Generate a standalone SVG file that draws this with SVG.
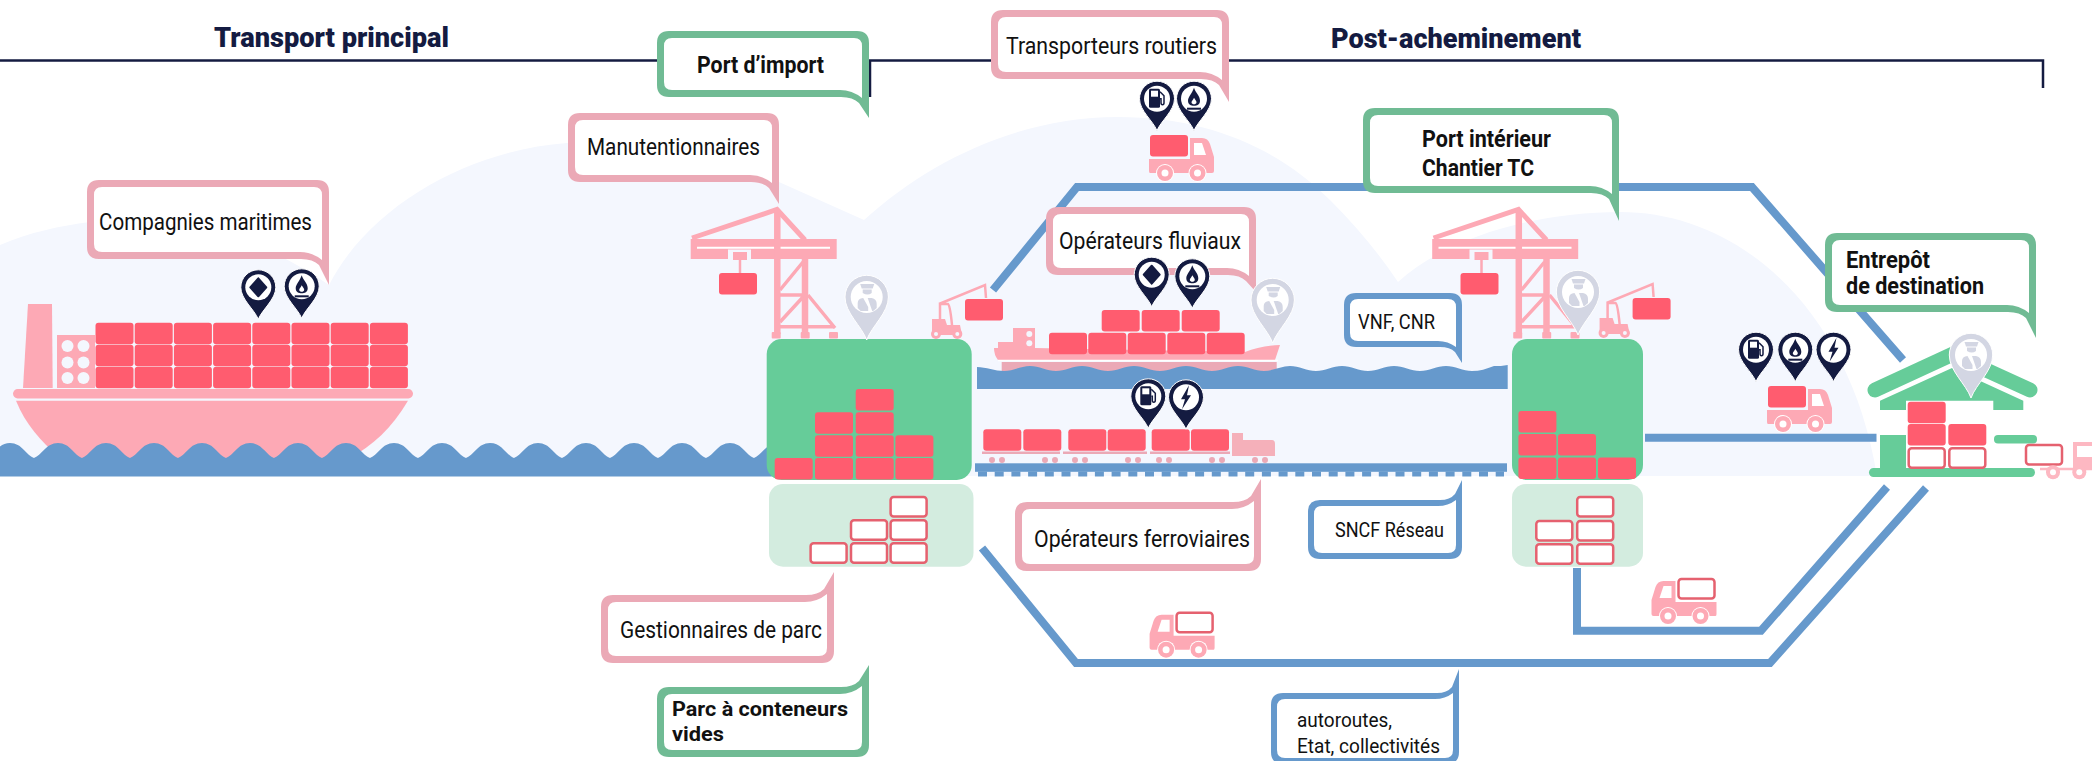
<svg xmlns="http://www.w3.org/2000/svg" xmlns:xlink="http://www.w3.org/1999/xlink" width="2092" height="761" viewBox="0 0 2092 761">
<style>
text{font-family:"Roboto","Liberation Sans",sans-serif;fill:#111;font-size:23px}
.b{font-weight:700}
.t{font-size:21px}
.s{font-size:21px}
.h{font-weight:900;font-size:28px;fill:#141b41}
.op{fill:#eba9b6}.og{fill:#70bb94}.ob{fill:#6699cc}.in{fill:#fff}
.road{fill:none;stroke:#6699cc;stroke-width:8;stroke-linejoin:miter}
.pk{fill:#fda9b5}.pl{stroke:#fda9b5;fill:none}
.gr{fill:#66cc99}.lg{fill:#d3ecdf}
</style>
<defs>
<rect id="c" width="38" height="21.5" rx="3" fill="#ff5c6f"/>
<rect id="e" x="1" y="1" width="36" height="19.5" rx="3" fill="#fff" stroke="#e5616f" stroke-width="2.5"/>
<g id="truck">
<path class="pk" d="M-1,24H40V3H52Q58,3 60,9L64,22V36Q64,38 62,38H0Q-1,38 -1,36Z"/>
<path fill="#fff" d="M44,8H52L56,20H44Z"/>
<circle cx="15" cy="38" r="9" fill="#fff"/><circle cx="47.5" cy="38" r="9" fill="#fff"/>
<circle cx="15" cy="38" r="8" class="pk"/><circle cx="47.5" cy="38" r="8" class="pk"/>
<circle cx="15" cy="38" r="3.5" fill="#fff"/><circle cx="47.5" cy="38" r="3.5" fill="#fff"/>
</g>
<g id="pin">
<path fill="#141b41" stroke="#fff" stroke-width="1" d="M0,0C-4,-10 -17.5,-20 -17.5,-32A17.5,17.5 0 1 1 17.5,-32C17.5,-20 4,-10 0,0Z"/>
<circle cx="0" cy="-32" r="13" fill="#fff"/>
</g>
<g id="i-diamond"><use href="#pin"/><path fill="#141b41" d="M0,-41L8,-32L0,-23L-8,-32Z" stroke="#141b41" stroke-linejoin="round" stroke-width="2"/></g>
<g id="i-flame"><use href="#pin"/><path fill="#141b41" d="M0,-43C1.5,-38 6,-35 6,-30C6,-26 3,-25 0,-25C-3,-25 -6,-26 -6,-30C-6,-34 -2,-37 0,-43Z"/><path fill="#fff" d="M0,-33C1,-31 2.5,-30 2.5,-28.500C2.500,-27 1,-26.500 0,-26.500C-1,-26.500 -2.500,-27 -2.500,-28.500C-2.500,-30 -.5,-31 0,-33Z"/><rect x="-7" y="-23" width="14" height="2" fill="#141b41"/></g>
<g id="i-pump"><use href="#pin"/><rect x="-8" y="-42" width="11" height="19" rx="1.500" fill="#141b41"/><rect x="-6" y="-40" width="7" height="6" fill="#fff"/><path fill="none" stroke="#141b41" stroke-width="1.500" d="M3,-39L7,-35V-28Q7,-26 5.500,-26Q4,-26 4,-28V-32H3"/></g>
<g id="i-bolt"><use href="#pin"/><path fill="#141b41" d="M3,-44L-5,-30H-1L-4,-20L5,-34H1Z"/></g>
<g id="grey">
<path fill="#d3d6e3" stroke="#fff" stroke-width="1" d="M0,0C-5,-14 -21.700,-27 -21.700,-43A21.700,21.700 0 1 1 21.700,-43C21.700,-27 5,-14 0,0Z"/>
<circle cx="0" cy="-43" r="16" fill="#fff"/>
<path fill="#d3d6e3" d="M-6.500,-56H7.500L6,-51.500H-5Z"/>
<path fill="#d3d6e3" d="M-4,-50.500H5V-47Q1,-44 -4,-47Z"/>
<path fill="#d3d6e3" d="M-9,-32V-37Q-9,-41.500 -3.500,-42L1.500,-33V-29H-6Z"/>
<path fill="#d3d6e3" d="M1,-42H5Q10,-41 10,-36V-32L6.500,-29H5.500Z"/>
</g>
<g id="crane">
<g class="pl" stroke-width="5"><path d="M692,238L777,209.500L805,240"/></g>
<path class="pk" d="M690.700,239H836.700V259H751V249.500H728V259H690.700Z"/>
<path stroke="#fff" stroke-width="2" d="M697,247.700H830"/>
<rect x="733" y="252" width="14" height="8" class="pk"/>
<path class="pl" stroke-width="2.500" d="M740,260V273"/>
<use href="#c" x="719" y="273"/>
<g class="pl" stroke-width="6.500"><path d="M777.300,210V334M805,259V334"/></g>
<g class="pl" stroke-width="3.500"><path d="M777,295H805M777,326.700H835M780,290L803,262M780,322L803,297M808,295L835,328"/></g>
<rect x="771.700" y="332" width="9" height="6.500" rx="1" class="pk"/><rect x="800.700" y="332" width="9" height="6.500" rx="1" class="pk"/><rect x="829" y="332" width="9" height="6.500" rx="1" class="pk"/>
</g>
<g id="fork">
<path class="pl" stroke-width="2.500" d="M939,304L985,285L986,298M940,325V304H948Q950,304 952,325"/>
<path class="pk" d="M932,319H945L947,325H960L962,335H932Z"/>
<circle cx="936" cy="334" r="5" class="pk"/><circle cx="957.300" cy="334" r="5" class="pk"/><circle cx="936" cy="334" r="2" fill="#f4f7fe"/><circle cx="957.300" cy="334" r="2" fill="#f4f7fe"/>
<use href="#c" x="965" y="299"/>
</g>
</defs>
<rect width="2092" height="761" fill="#fff"/>
<path id="hills" fill="#f4f7fe" d="M0,245C30,232 60,226 90,222C160,212 250,230 329,285C370,205 470,150 567,143C640,136 700,150 779,182L864,220C930,160 1020,117 1118,117C1210,117 1280,150 1330,200Q1370,240 1398,282C1450,235 1540,212 1620,212C1740,212 1850,310 1877,476H0Z"/>
<path id="header" fill="none" stroke="#141b41" stroke-width="2.500" d="M0,60.500H2043V88M870,60.500V97"/>
<text class="h" x="214" y="47" textLength="235" lengthAdjust="spacingAndGlyphs">Transport principal</text>
<text class="h" x="1331" y="48" textLength="250" lengthAdjust="spacingAndGlyphs">Post-acheminement</text>
<g id="connectors">
<path class="road" d="M993,290L1077,187H1752L1903,360"/>
<path class="road" d="M982,548L1076,663H1770L1926,488"/>
<path class="road" d="M1577,568V630.700H1761L1887,487"/>
<path class="road" d="M1645,437.700H1876.500"/>
</g>
<g id="mer">
<g id="navire">
<path class="pk" d="M28,304H52L52.700,388H23Z"/>
<rect x="57" y="335" width="38" height="53" class="pk"/>
<g fill="#f4f7fe"><circle cx="67.500" cy="346" r="6"/><circle cx="83.500" cy="346" r="6"/><circle cx="67.500" cy="362.500" r="6"/><circle cx="83.500" cy="362.500" r="6"/><circle cx="67.500" cy="378" r="6"/><circle cx="83.500" cy="378" r="6"/></g>
<g><use href="#c" x="95.500" y="322.700"/><use href="#c" x="134.700" y="322.700"/><use href="#c" x="173.900" y="322.700"/><use href="#c" x="213.100" y="322.700"/><use href="#c" x="252.300" y="322.700"/><use href="#c" x="291.500" y="322.700"/><use href="#c" x="330.700" y="322.700"/><use href="#c" x="369.900" y="322.700"/>
<use href="#c" x="95.500" y="344.700"/><use href="#c" x="134.700" y="344.700"/><use href="#c" x="173.900" y="344.700"/><use href="#c" x="213.100" y="344.700"/><use href="#c" x="252.300" y="344.700"/><use href="#c" x="291.500" y="344.700"/><use href="#c" x="330.700" y="344.700"/><use href="#c" x="369.900" y="344.700"/>
<use href="#c" x="95.500" y="366.700"/><use href="#c" x="134.700" y="366.700"/><use href="#c" x="173.900" y="366.700"/><use href="#c" x="213.100" y="366.700"/><use href="#c" x="252.300" y="366.700"/><use href="#c" x="291.500" y="366.700"/><use href="#c" x="330.700" y="366.700"/><use href="#c" x="369.900" y="366.700"/></g>
<rect x="13" y="389" width="400" height="9.500" rx="4.700" class="pk"/>
<path class="pk" d="M16,400.700H408C392,428 372,446 350,458H60C40,440 26,425 16,400.700Z"/>
</g>
<path class="ob" d="M-14,458c8,-3 12,-15 24,-15c12,0 16,12 24,15c8,-3 12,-15 24,-15c12,0 16,12 24,15c8,-3 12,-15 24,-15c12,0 16,12 24,15c8,-3 12,-15 24,-15c12,0 16,12 24,15c8,-3 12,-15 24,-15c12,0 16,12 24,15c8,-3 12,-15 24,-15c12,0 16,12 24,15c8,-3 12,-15 24,-15c12,0 16,12 24,15c8,-3 12,-15 24,-15c12,0 16,12 24,15c8,-3 12,-15 24,-15c12,0 16,12 24,15c8,-3 12,-15 24,-15c12,0 16,12 24,15c8,-3 12,-15 24,-15c12,0 16,12 24,15c8,-3 12,-15 24,-15c12,0 16,12 24,15c8,-3 12,-15 24,-15c12,0 16,12 24,15c8,-3 12,-15 24,-15c12,0 16,12 24,15c8,-3 12,-15 24,-15c12,0 16,12 24,15c8,-3 12,-15 24,-15c12,0 16,12 24,15c8,-3 12,-15 24,-15c12,0 16,12 24,15h8V476.500H-14Z"/>
</g>
<g id="port-import">
<use href="#crane"/>
<use href="#fork"/>
<rect x="766.700" y="339" width="205" height="141" rx="15" class="gr"/>
<rect x="769" y="484" width="204.500" height="82.700" rx="14" class="lg"/>
<g><use href="#c" x="774.700" y="458"/><use href="#c" x="815" y="458"/><use href="#c" x="855.700" y="458"/><use href="#c" x="895.400" y="458"/><use href="#c" x="815" y="435.300"/><use href="#c" x="855.700" y="435.300"/><use href="#c" x="895.400" y="435.300"/><use href="#c" x="815" y="412.300"/><use href="#c" x="855.700" y="412.300"/><use href="#c" x="855.700" y="389"/></g>
<g><use href="#e" x="809.600" y="542.300"/><use href="#e" x="850" y="542.300"/><use href="#e" x="889.600" y="542.300"/><use href="#e" x="850" y="519.300"/><use href="#e" x="889.600" y="519.300"/><use href="#e" x="889.600" y="496"/></g>
</g>
<g id="fluvial">
<path class="pk" d="M994,348H998V342H1013V328H1035V348L1245,352Q1260,346 1280,345L1275,360H998Q994,355 994,348Z"/>
<circle cx="1029.300" cy="334" r="3" fill="#f4f7fe"/><circle cx="1029.300" cy="343.300" r="3" fill="#f4f7fe"/>
<path stroke="#fff" stroke-width="1.500" d="M998,360.500H1278"/>
<rect x="1001.700" y="362" width="275" height="10" fill="#eba9b6"/>
<g><use href="#c" x="1101.700" y="310"/><use href="#c" x="1141.700" y="310"/><use href="#c" x="1181.700" y="310"/><use href="#c" x="1049" y="332.700"/><use href="#c" x="1088.300" y="332.700"/><use href="#c" x="1127.700" y="332.700"/><use href="#c" x="1167.300" y="332.700"/><use href="#c" x="1206.700" y="332.700"/></g>
<path class="ob" d="M977,367c9,0 18,4 27,4c9,0 17,-5 26,-5c9,0 17,5 26,5c9,0 17,-5 26,-5c9,0 17,5 26,5c9,0 17,-5 26,-5c9,0 17,5 26,5c9,0 17,-5 26,-5c9,0 17,5 26,5c9,0 17,-5 26,-5c9,0 17,5 26,5c9,0 17,-5 26,-5c9,0 17,5 26,5c9,0 17,-5 26,-5c9,0 17,5 26,5c9,0 17,-5 26,-5c9,0 17,5 26,5c9,0 17,-5 26,-5c9,0 17,5 26,5c8,0 14,-2 22,-5c5,0 9,0 13.700,-1V389H977Z"/>
</g>
<g id="ferroviaire">
<rect x="975" y="463.300" width="532" height="8.500" class="ob"/>
<path fill="none" stroke="#6699cc" stroke-width="5" stroke-dasharray="9 7.700" d="M978,474H1504"/>
<g><use href="#c" x="983.300" y="429.300"/><use href="#c" x="1023.300" y="429.300"/><use href="#c" x="1068.300" y="429.300"/><use href="#c" x="1107.700" y="429.300"/><use href="#c" x="1151.700" y="429.300"/><use href="#c" x="1191" y="429.300"/></g>
<path stroke="#eba9b6" stroke-width="2.500" d="M982,452.700H1060M1063,452.700H1147M1150,452.700H1230"/>
<g fill="#eba9b6"><circle cx="992" cy="460" r="3"/><circle cx="1002" cy="460" r="3"/><circle cx="1045" cy="460" r="3"/><circle cx="1055" cy="460" r="3"/><circle cx="1075" cy="460" r="3"/><circle cx="1085" cy="460" r="3"/><circle cx="1128" cy="460" r="3"/><circle cx="1138" cy="460" r="3"/><circle cx="1159" cy="460" r="3"/><circle cx="1169" cy="460" r="3"/><circle cx="1212" cy="460" r="3"/><circle cx="1222" cy="460" r="3"/><circle cx="1255" cy="460" r="3"/><circle cx="1265" cy="460" r="3"/></g>
<path fill="#f5b0ba" d="M1232,433H1243V440H1272Q1275,440 1275,444V456H1232Z"/>
</g>
<g id="port-interieur">
<use href="#crane" transform="translate(741.500,0)"/>
<use href="#fork" transform="translate(667.600,-1)"/>
<rect x="1512" y="339" width="131" height="141" rx="15" class="gr"/>
<rect x="1512" y="484" width="131" height="82.700" rx="14" class="lg"/>
<g><use href="#c" x="1518.400" y="457.500"/><use href="#c" x="1558" y="457.500"/><use href="#c" x="1598" y="457.500"/><use href="#c" x="1518.400" y="434"/><use href="#c" x="1558" y="434"/><use href="#c" x="1518.400" y="411"/></g>
<g><use href="#e" x="1535.300" y="543.300"/><use href="#e" x="1576.200" y="543.300"/><use href="#e" x="1535.300" y="520"/><use href="#e" x="1576.200" y="520"/><use href="#e" x="1576.200" y="496"/></g>
</g>
<g id="entrepot">
<path fill="none" stroke="#66cc99" stroke-width="15" stroke-linecap="round" d="M1875,390L1952,354.500L2030,390"/>
<path class="gr" d="M1880,410V400.700L1952,368L2023.300,400.700V410H1993.300V400.700H1906V410Z"/>
<rect x="1880" y="435" width="26" height="33.500" class="gr"/>
<rect x="1994" y="435" width="43" height="8.500" rx="4" class="gr"/>
<rect x="1869" y="468" width="166" height="9" rx="4.500" class="gr"/>
<use href="#c" x="1907.700" y="401.700"/><use href="#c" x="1907.700" y="424"/><use href="#c" x="1948.300" y="424"/>
<use href="#e" x="1907.700" y="447.300"/><use href="#e" x="1948.300" y="447.300"/>
</g>
<g id="camions">
<g><use href="#truck" transform="translate(1150,135)"/><use href="#c" x="1150" y="135"/></g>
<g><use href="#truck" transform="translate(1768,386)"/><use href="#c" x="1768" y="386"/></g>
<g><use href="#truck" transform="translate(1213.600,611.700) scale(-1,1)"/><use href="#e" x="1175.600" y="611.700"/></g>
<g><use href="#truck" transform="translate(1715.500,578) scale(-1,1)"/><use href="#e" x="1677.500" y="578"/></g>
<g id="camion-sortie">
<use href="#e" x="2025" y="444"/>
<path stroke="#fdb8c2" stroke-width="2.500" d="M2040,469H2092"/>
<path fill="#fdb8c2" d="M2073,442H2092V470H2073Z"/><rect x="2077" y="446" width="15" height="11" fill="#fff"/>
<circle cx="2053" cy="472.300" r="7" fill="#fdb8c2"/><circle cx="2079.300" cy="472.300" r="7" fill="#fdb8c2"/><circle cx="2053" cy="472.300" r="3" fill="#fff"/><circle cx="2079.300" cy="472.300" r="3" fill="#fff"/>
</g>
</g>
<g id="n-compagnies"><path class="op" d="M99,180H317Q329,180 329,192V285L319,265Q313,259 301,259H99Q87,259 87,247V192Q87,180 99,180Z"/><path class="in" d="M102,187H314Q322,187 322,195V260Q312,252 300,252H102Q94,252 94,244V195Q94,187 102,187Z"/><text x="99" y="230" textLength="213" lengthAdjust="spacingAndGlyphs">Compagnies maritimes</text></g>
<g id="n-manutention"><path class="op" d="M580,113H767Q779,113 779,125V204L769,188Q763,182 751,182H580Q568,182 568,170V125Q568,113 580,113Z"/><path class="in" d="M583,120H764Q772,120 772,128V183Q762,175 750,175H583Q575,175 575,167V128Q575,120 583,120Z"/><text x="587" y="155" textLength="173" lengthAdjust="spacingAndGlyphs">Manutentionnaires</text></g>
<g id="n-port-import"><path class="og" d="M669,31H857Q869,31 869,43V118L859,103Q853,97 841,97H669Q657,97 657,85V43Q657,31 669,31Z"/><path class="in" d="M672,38H854Q862,38 862,46V98Q852,90 840,90H672Q664,90 664,82V46Q664,38 672,38Z"/><text class="b" x="697" y="73" textLength="127" lengthAdjust="spacingAndGlyphs">Port d’import</text></g>
<g id="n-routiers"><path class="op" d="M1003,10H1217Q1229,10 1229,22V102L1219,85Q1213,79 1201,79H1003Q991,79 991,67V22Q991,10 1003,10Z"/><path class="in" d="M1006,17H1214Q1222,17 1222,25V80Q1212,72 1200,72H1006Q998,72 998,64V25Q998,17 1006,17Z"/><text x="1006" y="54" textLength="211" lengthAdjust="spacingAndGlyphs">Transporteurs routiers</text></g>
<g id="n-fluviaux"><path class="op" d="M1058,207H1244Q1256,207 1256,219V292L1246,281Q1240,275 1228,275H1058Q1046,275 1046,263V219Q1046,207 1058,207Z"/><path class="in" d="M1061,214H1241Q1249,214 1249,222V276Q1239,268 1227,268H1061Q1053,268 1053,260V222Q1053,214 1061,214Z"/><text x="1059" y="249" textLength="182" lengthAdjust="spacingAndGlyphs">Opérateurs fluviaux</text></g>
<g id="n-port-interieur"><path class="og" d="M1375,108H1607Q1619,108 1619,120V221L1609,199Q1603,193 1591,193H1375Q1363,193 1363,181V120Q1363,108 1375,108Z"/><path class="in" d="M1378,115H1604Q1612,115 1612,123V194Q1602,186 1590,186H1378Q1370,186 1370,178V123Q1370,115 1378,115Z"/><text class="b" x="1422" y="147" textLength="129" lengthAdjust="spacingAndGlyphs">Port intérieur</text><text class="b" x="1422" y="176" textLength="112" lengthAdjust="spacingAndGlyphs">Chantier TC</text></g>
<g id="n-entrepot"><path class="og" d="M1837,233H2024Q2036,233 2036,245V338L2026,318Q2020,312 2008,312H1837Q1825,312 1825,300V245Q1825,233 1837,233Z"/><path class="in" d="M1840,240H2021Q2029,240 2029,248V313Q2019,305 2007,305H1840Q1832,305 1832,297V248Q1832,240 1840,240Z"/><text class="b" x="1846" y="268" textLength="84" lengthAdjust="spacingAndGlyphs">Entrepôt</text><text class="b" x="1846" y="294" textLength="138" lengthAdjust="spacingAndGlyphs">de destination</text></g>
<g id="n-vnf"><path class="ob" d="M1356,293H1450Q1462,293 1462,305V363L1455,352Q1450,347 1440,347H1356Q1344,347 1344,335V305Q1344,293 1356,293Z"/><path class="in" d="M1358,299H1448Q1456,299 1456,307V347Q1448,341 1438,341H1358Q1350,341 1350,333V307Q1350,299 1358,299Z"/><text class="s" x="1358" y="329" textLength="77" lengthAdjust="spacingAndGlyphs">VNF, CNR</text></g>
<g id="n-ferroviaires"><path class="op" d="M1027,571H1249Q1261,571 1261,559V479L1251,496Q1245,502 1233,502H1027Q1015,502 1015,514V559Q1015,571 1027,571Z"/><path class="in" d="M1030,564H1246Q1254,564 1254,556V501Q1244,509 1232,509H1030Q1022,509 1022,517V556Q1022,564 1030,564Z"/><text x="1034" y="547" textLength="216" lengthAdjust="spacingAndGlyphs">Opérateurs ferroviaires</text></g>
<g id="n-sncf"><path class="ob" d="M1320,559H1450Q1462,559 1462,547V480L1455,494Q1450,500 1440,500H1320Q1308,500 1308,512V547Q1308,559 1320,559Z"/><path class="in" d="M1322,553H1448Q1456,553 1456,545V500Q1448,506 1438,506H1322Q1314,506 1314,514V545Q1314,553 1322,553Z"/><text class="s" x="1335" y="537" textLength="109" lengthAdjust="spacingAndGlyphs">SNCF Réseau</text></g>
<g id="n-gestionnaires"><path class="op" d="M613,663H822Q834,663 834,651V572L824,589Q818,595 806,595H613Q601,595 601,607V651Q601,663 613,663Z"/><path class="in" d="M616,656H819Q827,656 827,648V594Q817,602 805,602H616Q608,602 608,610V648Q608,656 616,656Z"/><text x="620" y="638" textLength="202" lengthAdjust="spacingAndGlyphs">Gestionnaires de parc</text></g>
<g id="n-parc"><path class="og" d="M669,757H857Q869,757 869,745V665L859,681Q853,687 841,687H669Q657,687 657,699V745Q657,757 669,757Z"/><path class="in" d="M672,750H854Q862,750 862,742V686Q852,694 840,694H672Q664,694 664,702V742Q664,750 672,750Z"/><text class="b t" x="672" y="716" textLength="176" lengthAdjust="spacingAndGlyphs">Parc à conteneurs</text><text class="b t" x="672" y="741" textLength="52" lengthAdjust="spacingAndGlyphs">vides</text></g>
<g id="n-autoroutes"><path class="ob" d="M1283,764H1447Q1459,764 1459,752V669L1452,687Q1447,693 1437,693H1283Q1271,693 1271,705V752Q1271,764 1283,764Z"/><path class="in" d="M1285,758H1445Q1453,758 1453,750V693Q1445,699 1435,699H1285Q1277,699 1277,707V750Q1277,758 1285,758Z"/><text class="s" x="1297" y="727" textLength="95" lengthAdjust="spacingAndGlyphs">autoroutes,</text><text class="s" x="1297" y="753" textLength="143" lengthAdjust="spacingAndGlyphs">Etat, collectivités</text></g>
<g id="pins">
<use href="#i-diamond" x="258.300" y="319.300"/><use href="#i-flame" x="301.700" y="318.300"/>
<use href="#i-pump" x="1157" y="130.700"/><use href="#i-flame" x="1194" y="130.700"/>
<use href="#i-diamond" x="1151.700" y="306.700"/><use href="#i-flame" x="1192.300" y="308.300"/>
<use href="#i-pump" x="1148.300" y="428.300"/><use href="#i-bolt" x="1186" y="429.300"/>
<use href="#i-pump" x="1756" y="381.700"/><use href="#i-flame" x="1795.300" y="381.700"/><use href="#i-bolt" x="1833.500" y="381.700"/>
<use href="#grey" x="866.700" y="340"/><use href="#grey" x="1272.700" y="343"/><use href="#grey" x="1578" y="335"/><use href="#grey" x="1971" y="398"/>
</g>
</svg>
